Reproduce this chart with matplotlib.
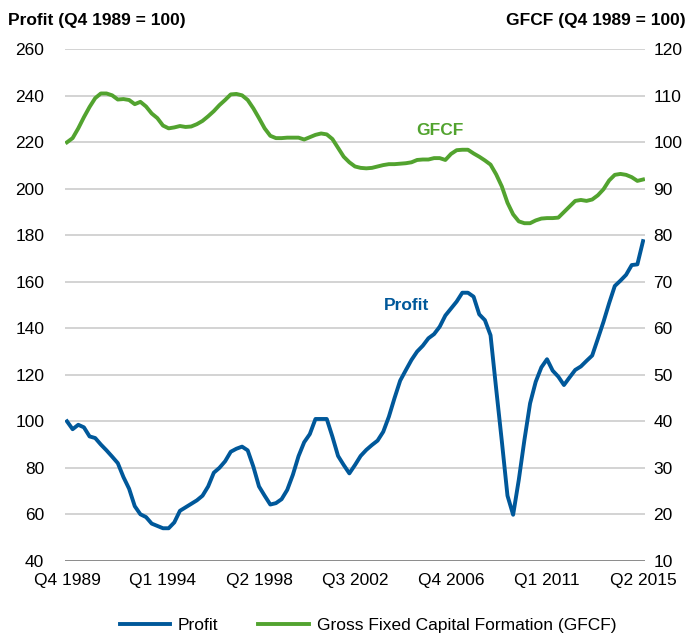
import matplotlib
matplotlib.use('Agg')
import matplotlib.pyplot as plt

plt.rcParams['font.family'] = ['Liberation Sans', 'DejaVu Sans']

# Quarterly index values, Q4 1989 = 100
profit = [100, 96.6, 98.5, 97.4, 93.5, 92.8, 90, 87.5, 84.8, 82,
          76, 71, 63.5, 60, 58.8, 56, 55, 54, 54, 56.5,
          61.5, 63, 64.5, 66, 68, 72, 77.9, 80, 82.8, 86.9,
          88.2, 89.1, 87.5, 80.5, 72, 68, 64.2, 64.8, 66.5, 70.5,
          77, 85, 91, 94.5, 101, 101, 101, 93.4, 85.1, 81.2,
          77.6, 81.2, 85.1, 87.7, 89.8, 91.7, 95.5, 102, 110, 117.5,
          122, 126.4, 130, 132.5, 135.7, 137.5, 140.7, 145.5, 148.5, 151.5,
          155.3, 155.3, 153.6, 146, 143.5, 137, 113.9, 91.4, 68, 59.8,
          74.8, 92, 107.7, 117, 123.2, 126.7, 121.8, 119.2, 115.6, 118.9,
          122.1, 123.6, 126, 128.3, 135.5, 142.8, 150.8, 158.2, 160.5, 163,
          167.2, 167.5, 177.5]
gfcf = [100, 100.9, 103, 105.4, 107.6, 109.5, 110.5, 110.5, 110.1, 109.2,
        109.3, 109.1, 108.2, 108.7, 107.7, 106.2, 105.2, 103.6, 103.0, 103.2,
        103.5, 103.3, 103.4, 103.9, 104.6, 105.6, 106.7, 108.0, 109.1, 110.3,
        110.4, 110.1, 109.1, 107.3, 105.2, 103.0, 101.4, 100.9, 100.9, 101.0,
        101.0, 101.0, 100.6, 101.1, 101.6, 101.9, 101.7, 100.7, 98.8, 96.9,
        95.7, 94.8, 94.5, 94.4, 94.5, 94.8, 95.1, 95.3, 95.3, 95.4,
        95.5, 95.7, 96.2, 96.3, 96.3, 96.6, 96.6, 96.2, 97.5, 98.3,
        98.4, 98.4, 97.6, 96.9, 96.1, 95.2, 93.1, 90.5, 87.0, 84.5,
        83.0, 82.6, 82.6, 83.2, 83.6, 83.7, 83.7, 83.8, 85.0, 86.2,
        87.4, 87.6, 87.4, 87.7, 88.6, 89.9, 91.8, 93.0, 93.2, 93.0,
        92.5, 91.7, 92.0]
quarters = list(range(len(profit)))
tick_pos = [0, 17, 34, 51, 68, 85, 102]
tick_labels = ['Q4 1989', 'Q1 1994', 'Q2 1998', 'Q3 2002', 'Q4 2006', 'Q1 2011', 'Q2 2015']

blue = '#00589A'
green = '#52A32F'
fs = 12.5

fig = plt.figure(figsize=(6.94, 6.4), dpi=100)
ax = fig.add_axes([65 / 694, 1 - 560.8 / 640, 580 / 694, 511.5 / 640])
ax2 = ax.twinx()

ax.set_ylim(40, 260)
ax.set_yticks(range(40, 261, 20))
ax2.set_ylim(10, 120)
ax2.set_yticks(range(10, 121, 10))
ax.set_xlim(-0.35, 102.35)
ax.set_xticks(tick_pos)
ax.set_xticklabels(tick_labels)

ax.grid(axis='y', color='#c8c8c8', linewidth=1.1)
ax.set_axisbelow(True)
for a in (ax, ax2):
    for s in ['top', 'left', 'right', 'bottom']:
        a.spines[s].set_visible(False)
ax.axhline(40, color='#808080', linewidth=1.2, zorder=1)
ax.tick_params(axis='both', length=0, labelsize=fs)
ax.tick_params(axis='y', pad=15)
ax.tick_params(axis='x', pad=9)
ax2.tick_params(axis='y', length=0, labelsize=fs, pad=6)

l1, = ax.plot(quarters, profit, color=blue, linewidth=2.8, label='Profit', zorder=3)
l2, = ax2.plot(quarters, gfcf, color=green, linewidth=2.8,
               label='Gross Fixed Capital Formation (GFCF)', zorder=3)

ax.text(60.2, 150, 'Profit', color=blue, fontsize=fs, fontweight='bold',
        ha='center', va='center')
ax2.text(66, 102.6, 'GFCF', color=green, fontsize=fs, fontweight='bold',
         ha='center', va='center')

fig.text(8 / 694, 1 - 20 / 640, 'Profit (Q4 1989 = 100)', fontsize=fs,
         fontweight='bold', ha='left', va='center')
fig.text(686 / 694, 1 - 20 / 640, 'GFCF (Q4 1989 = 100)', fontsize=fs,
         fontweight='bold', ha='right', va='center')

fig.legend(handles=[l1, l2], loc='center', bbox_to_anchor=(368 / 694, 1 - 625 / 640),
           ncol=2, frameon=False, fontsize=fs, handlelength=2.9,
           handletextpad=0.46, columnspacing=2.3)

fig.savefig('out.png', dpi=100)
